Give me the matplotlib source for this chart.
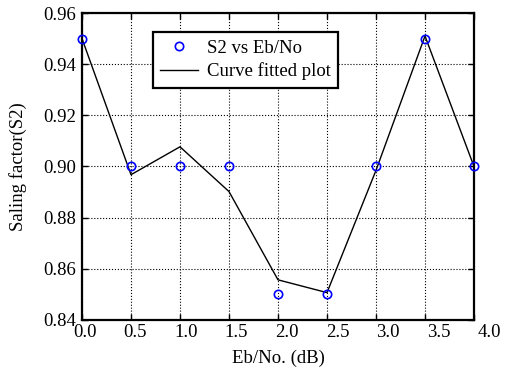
import numpy as np
import matplotlib
matplotlib.use('Agg')
import matplotlib.pyplot as plt
import matplotlib.transforms as mtransforms

plt.rcParams['font.family'] = 'Liberation Serif'
plt.rcParams['font.size'] = 13.5

# measured scaling factor S2 against Eb/No
ebno = [0.0, 0.5, 1.0, 1.5, 2.0, 2.5, 3.0, 3.5, 4.0]
s2_measured = [0.95, 0.90, 0.90, 0.90, 0.85, 0.85, 0.90, 0.95, 0.90]
s2_fitted = [0.95, 0.8968, 0.9077, 0.8902, 0.8557, 0.8507, 0.8985, 0.951, 0.90]

xticks = [0.0, 0.5, 1.0, 1.5, 2.0, 2.5, 3.0, 3.5, 4.0]
xtick_labels = ['0.0', '0.5', '1.0', '1.5', '2.0', '2.5', '3.0', '3.5', '4.0']
yticks = [0.84, 0.86, 0.88, 0.90, 0.92, 0.94, 0.96]
ytick_labels = ['0.84', '0.86', '0.88', '0.90', '0.92', '0.94', '0.96']

fig = plt.figure(figsize=(5.05, 3.69), dpi=100)
ax = fig.add_axes([82 / 505, 1 - 320 / 369, (474 - 82) / 505, (320 - 13) / 369])

ax.plot(ebno, s2_measured, 'o', mfc='none', mec='blue', ms=6, mew=1.2,
        label='S2 vs Eb/No', clip_on=False, zorder=3)
ax.plot(ebno, s2_fitted, '-', color='black', lw=1.0, label='Curve fitted plot',
        clip_on=False, zorder=2)

ax.set_xlim(0, 4)
ax.set_ylim(0.84, 0.96)
ax.set_xticks(xticks)
ax.set_xticklabels(xtick_labels)
ax.set_yticks(yticks)
ax.set_yticklabels(ytick_labels)

ax.grid(True, linestyle=':', color='black', linewidth=0.8)
ax.tick_params(direction='in', length=4, width=1, top=True, right=True)
ax.tick_params(axis='x', pad=3)
ax.tick_params(axis='y', pad=4)
for sp in ax.spines.values():
    sp.set_linewidth(1.6)

# tick labels drift slightly to the right along the axis
for i, lbl in enumerate(ax.get_xticklabels()):
    dx = (3 + 1.5 * i) / 100
    lbl.set_transform(lbl.get_transform() + mtransforms.ScaledTranslation(dx, 0, fig.dpi_scale_trans))

ax.set_xlabel('Eb/No. (dB)', labelpad=6)
ax.set_ylabel('Saling factor(S2)', labelpad=12)

leg = ax.legend(loc='upper left', bbox_to_anchor=(70.5 / 392, 1 - 19 / 307),
                fancybox=False, framealpha=1, edgecolor='black',
                borderpad=0.4, handlelength=2.0, handletextpad=0.5,
                labelspacing=0.3, borderaxespad=0)
leg.get_frame().set_linewidth(1.6)

fig.savefig('out.png', dpi=100)
